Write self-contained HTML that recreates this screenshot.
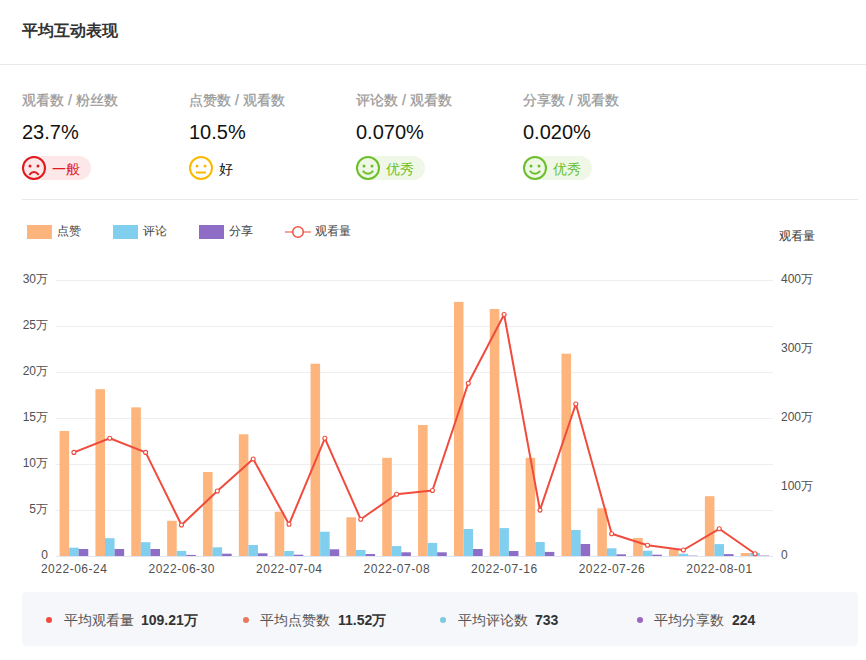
<!DOCTYPE html>
<html><head><meta charset="utf-8">
<style>
html,body{margin:0;padding:0;background:#fff;}
body{width:866px;height:660px;position:relative;overflow:hidden;font-family:"Liberation Sans",sans-serif;}
.a{position:absolute;white-space:nowrap;}
.title{left:22px;top:23px;font-size:16px;line-height:16px;font-weight:bold;color:#333;}
.hr{position:absolute;height:1px;background:#e8e8ed;}
.lbl{font-size:14px;line-height:14px;color:#999;font-weight:normal;top:93px;-webkit-text-stroke:0.25px #999;}
.val{font-size:20px;line-height:20px;color:#111;top:122px;}
.badge{position:absolute;top:156px;height:24px;}
.pill{position:absolute;left:0;top:0;height:24px;border-radius:12px;}
.face{position:absolute;left:0;top:0;}
.bt{position:absolute;white-space:nowrap;top:6px;font-size:14px;line-height:14px;}
.leg{font-size:12px;line-height:12px;color:#444;top:225px;}
.ax{font-size:12px;line-height:12px;color:#333;}
.sum{position:absolute;left:22px;top:592px;width:836px;height:54px;background:#f5f7fa;border-radius:4px;}
.dot{position:absolute;width:6px;height:6px;border-radius:3px;top:617px;}
.sl{font-size:14px;line-height:14px;color:#555;top:613px;}
.sv{font-size:14px;line-height:14px;color:#333;font-weight:bold;top:613px;}
</style></head><body>
<div class="a title">平均互动表现</div>
<div class="hr" style="left:0;top:64px;width:866px;"></div>

<div class="a lbl" style="left:22px">观看数 / 粉丝数</div>
<div class="a lbl" style="left:189px">点赞数 / 观看数</div>
<div class="a lbl" style="left:356px">评论数 / 观看数</div>
<div class="a lbl" style="left:523px">分享数 / 观看数</div>

<div class="a val" style="left:22px">23.7%</div>
<div class="a val" style="left:189px">10.5%</div>
<div class="a val" style="left:356px">0.070%</div>
<div class="a val" style="left:523px">0.020%</div>

<div class="badge" style="left:22px;">
 <div class="pill" style="width:69px;background:#fde8e9"></div>
 <svg class="face" width="24" height="24" viewBox="0 0 24 24"><circle cx="12" cy="12" r="11" fill="none" stroke="#e0191d" stroke-width="2"/><circle cx="8" cy="10" r="1.5" fill="#e0191d"/><circle cx="16" cy="10" r="1.5" fill="#e0191d"/><path d="M7.3 18.8 Q12 13.2 16.7 18.8" fill="none" stroke="#e0191d" stroke-width="2"/></svg>
 <div class="bt" style="left:30px;color:#e0191d">一般</div>
</div>
<div class="badge" style="left:189px;">
 <svg class="face" width="24" height="24" viewBox="0 0 24 24"><circle cx="12" cy="12" r="11" fill="none" stroke="#fcb800" stroke-width="2"/><circle cx="8" cy="10" r="1.5" fill="#fcb800"/><circle cx="16" cy="10" r="1.5" fill="#fcb800"/><path d="M7 16.5 H17" fill="none" stroke="#fcb800" stroke-width="2"/></svg>
 <div class="bt" style="left:30px;color:#111">好</div>
</div>
<div class="badge" style="left:356px;">
 <div class="pill" style="width:69px;background:#eff8e6"></div>
 <svg class="face" width="24" height="24" viewBox="0 0 24 24"><circle cx="12" cy="12" r="11" fill="none" stroke="#6cbf2a" stroke-width="2"/><circle cx="8" cy="10" r="1.5" fill="#6cbf2a"/><circle cx="16" cy="10" r="1.5" fill="#6cbf2a"/><path d="M6.8 14.8 Q12 20.6 17.2 14.8" fill="none" stroke="#6cbf2a" stroke-width="2"/></svg>
 <div class="bt" style="left:30px;color:#6cbf2a">优秀</div>
</div>
<div class="badge" style="left:523px;">
 <div class="pill" style="width:69px;background:#eff8e6"></div>
 <svg class="face" width="24" height="24" viewBox="0 0 24 24"><circle cx="12" cy="12" r="11" fill="none" stroke="#6cbf2a" stroke-width="2"/><circle cx="8" cy="10" r="1.5" fill="#6cbf2a"/><circle cx="16" cy="10" r="1.5" fill="#6cbf2a"/><path d="M6.8 14.8 Q12 20.6 17.2 14.8" fill="none" stroke="#6cbf2a" stroke-width="2"/></svg>
 <div class="bt" style="left:30px;color:#6cbf2a">优秀</div>
</div>

<div class="hr" style="left:22px;top:199px;width:836px;"></div>

<div class="a" style="left:27px;top:225px;width:25px;height:14px;background:#fdb47d"></div>
<div class="a leg" style="left:57px">点赞</div>
<div class="a" style="left:113px;top:225px;width:25px;height:14px;background:#80cfee"></div>
<div class="a leg" style="left:143px">评论</div>
<div class="a" style="left:199px;top:225px;width:25px;height:14px;background:#8e6dc6"></div>
<div class="a leg" style="left:229px">分享</div>
<svg class="a" style="left:285px;top:225px" width="26" height="14"><line x1="0" y1="7" x2="26" y2="7" stroke="#f6a29a" stroke-width="2"/><circle cx="13" cy="7" r="5.3" fill="#fff" stroke="#f0584c" stroke-width="1.6"/></svg>
<div class="a leg" style="left:315px">观看量</div>
<div class="a ax" style="left:779px;top:230px">观看量</div>
<svg class="a" style="left:0;top:0" width="866" height="660" font-family="Liberation Sans, sans-serif" font-size="12" fill="#333">
<line x1="56" y1="280.5" x2="773" y2="280.5" stroke="#eeeeee" stroke-width="1"/>
<line x1="56" y1="326.5" x2="773" y2="326.5" stroke="#eeeeee" stroke-width="1"/>
<line x1="56" y1="372.5" x2="773" y2="372.5" stroke="#eeeeee" stroke-width="1"/>
<line x1="56" y1="418.5" x2="773" y2="418.5" stroke="#eeeeee" stroke-width="1"/>
<line x1="56" y1="464.5" x2="773" y2="464.5" stroke="#eeeeee" stroke-width="1"/>
<line x1="56" y1="510.5" x2="773" y2="510.5" stroke="#eeeeee" stroke-width="1"/>
<line x1="56" y1="556.5" x2="773" y2="556.5" stroke="#e0e6f1" stroke-width="1"/>
<rect x="59.58" y="431.00" width="9.56" height="125.00" fill="#fdb47d"/>
<rect x="69.14" y="547.70" width="9.56" height="8.30" fill="#80cfee"/>
<rect x="78.70" y="549.00" width="9.56" height="7.00" fill="#8e6dc6"/>
<rect x="95.44" y="389.20" width="9.56" height="166.80" fill="#fdb47d"/>
<rect x="105.00" y="538.20" width="9.56" height="17.80" fill="#80cfee"/>
<rect x="114.56" y="549.00" width="9.56" height="7.00" fill="#8e6dc6"/>
<rect x="131.28" y="407.40" width="9.56" height="148.60" fill="#fdb47d"/>
<rect x="140.84" y="542.20" width="9.56" height="13.80" fill="#80cfee"/>
<rect x="150.41" y="549.00" width="9.56" height="7.00" fill="#8e6dc6"/>
<rect x="167.14" y="520.80" width="9.56" height="35.20" fill="#fdb47d"/>
<rect x="176.70" y="550.90" width="9.56" height="5.10" fill="#80cfee"/>
<rect x="186.26" y="554.90" width="9.56" height="1.10" fill="#8e6dc6"/>
<rect x="202.99" y="472.00" width="9.56" height="84.00" fill="#fdb47d"/>
<rect x="212.55" y="547.30" width="9.56" height="8.70" fill="#80cfee"/>
<rect x="222.11" y="553.70" width="9.56" height="2.30" fill="#8e6dc6"/>
<rect x="238.84" y="434.30" width="9.56" height="121.70" fill="#fdb47d"/>
<rect x="248.40" y="545.00" width="9.56" height="11.00" fill="#80cfee"/>
<rect x="257.95" y="553.30" width="9.56" height="2.70" fill="#8e6dc6"/>
<rect x="274.69" y="511.70" width="9.56" height="44.30" fill="#fdb47d"/>
<rect x="284.25" y="551.00" width="9.56" height="5.00" fill="#80cfee"/>
<rect x="293.81" y="554.70" width="9.56" height="1.30" fill="#8e6dc6"/>
<rect x="310.54" y="363.70" width="9.56" height="192.30" fill="#fdb47d"/>
<rect x="320.10" y="531.70" width="9.56" height="24.30" fill="#80cfee"/>
<rect x="329.66" y="549.30" width="9.56" height="6.70" fill="#8e6dc6"/>
<rect x="346.39" y="517.30" width="9.56" height="38.70" fill="#fdb47d"/>
<rect x="355.95" y="550.00" width="9.56" height="6.00" fill="#80cfee"/>
<rect x="365.51" y="554.00" width="9.56" height="2.00" fill="#8e6dc6"/>
<rect x="382.24" y="457.80" width="9.56" height="98.20" fill="#fdb47d"/>
<rect x="391.80" y="546.10" width="9.56" height="9.90" fill="#80cfee"/>
<rect x="401.36" y="552.30" width="9.56" height="3.70" fill="#8e6dc6"/>
<rect x="418.09" y="425.00" width="9.56" height="131.00" fill="#fdb47d"/>
<rect x="427.65" y="542.90" width="9.56" height="13.10" fill="#80cfee"/>
<rect x="437.21" y="552.30" width="9.56" height="3.70" fill="#8e6dc6"/>
<rect x="453.94" y="301.90" width="9.56" height="254.10" fill="#fdb47d"/>
<rect x="463.50" y="529.00" width="9.56" height="27.00" fill="#80cfee"/>
<rect x="473.06" y="549.00" width="9.56" height="7.00" fill="#8e6dc6"/>
<rect x="489.79" y="309.00" width="9.56" height="247.00" fill="#fdb47d"/>
<rect x="499.35" y="528.10" width="9.56" height="27.90" fill="#80cfee"/>
<rect x="508.91" y="551.00" width="9.56" height="5.00" fill="#8e6dc6"/>
<rect x="525.63" y="457.80" width="9.56" height="98.20" fill="#fdb47d"/>
<rect x="535.19" y="542.00" width="9.56" height="14.00" fill="#80cfee"/>
<rect x="544.75" y="551.90" width="9.56" height="4.10" fill="#8e6dc6"/>
<rect x="561.49" y="353.70" width="9.56" height="202.30" fill="#fdb47d"/>
<rect x="571.04" y="530.00" width="9.56" height="26.00" fill="#80cfee"/>
<rect x="580.61" y="544.00" width="9.56" height="12.00" fill="#8e6dc6"/>
<rect x="597.34" y="508.30" width="9.56" height="47.70" fill="#fdb47d"/>
<rect x="606.89" y="548.30" width="9.56" height="7.70" fill="#80cfee"/>
<rect x="616.46" y="554.30" width="9.56" height="1.70" fill="#8e6dc6"/>
<rect x="633.18" y="538.00" width="9.56" height="18.00" fill="#fdb47d"/>
<rect x="642.74" y="550.70" width="9.56" height="5.30" fill="#80cfee"/>
<rect x="652.30" y="554.70" width="9.56" height="1.30" fill="#8e6dc6"/>
<rect x="669.03" y="549.30" width="9.56" height="6.70" fill="#fdb47d"/>
<rect x="678.59" y="553.70" width="9.56" height="2.30" fill="#80cfee"/>
<rect x="688.15" y="555.65" width="9.56" height="0.35" fill="#8e6dc6"/>
<rect x="704.88" y="496.20" width="9.56" height="59.80" fill="#fdb47d"/>
<rect x="714.44" y="544.10" width="9.56" height="11.90" fill="#80cfee"/>
<rect x="724.00" y="554.10" width="9.56" height="1.90" fill="#8e6dc6"/>
<rect x="740.74" y="553.00" width="9.56" height="3.00" fill="#fdb47d"/>
<rect x="750.29" y="553.00" width="9.56" height="3.00" fill="#80cfee"/>
<rect x="759.86" y="555.6" width="9.56" height="0.4" fill="#8e6dc6"/>
<polyline points="73.92,452.40 109.78,438.30 145.62,452.40 181.48,525.00 217.33,491.00 253.18,459.00 289.02,524.30 324.88,438.30 360.73,519.30 396.57,494.20 432.43,490.50 468.28,383.30 504.12,314.50 539.98,510.10 575.83,404.00 611.68,533.70 647.52,545.30 683.38,550.00 719.23,528.80 755.08,553.80" fill="none" stroke="#f04b3d" stroke-width="2" stroke-linejoin="round"/>
<circle cx="73.92" cy="452.40" r="2" fill="#fff" stroke="#f04b3d" stroke-width="1.1"/>
<circle cx="109.78" cy="438.30" r="2" fill="#fff" stroke="#f04b3d" stroke-width="1.1"/>
<circle cx="145.62" cy="452.40" r="2" fill="#fff" stroke="#f04b3d" stroke-width="1.1"/>
<circle cx="181.48" cy="525.00" r="2" fill="#fff" stroke="#f04b3d" stroke-width="1.1"/>
<circle cx="217.33" cy="491.00" r="2" fill="#fff" stroke="#f04b3d" stroke-width="1.1"/>
<circle cx="253.18" cy="459.00" r="2" fill="#fff" stroke="#f04b3d" stroke-width="1.1"/>
<circle cx="289.02" cy="524.30" r="2" fill="#fff" stroke="#f04b3d" stroke-width="1.1"/>
<circle cx="324.88" cy="438.30" r="2" fill="#fff" stroke="#f04b3d" stroke-width="1.1"/>
<circle cx="360.73" cy="519.30" r="2" fill="#fff" stroke="#f04b3d" stroke-width="1.1"/>
<circle cx="396.57" cy="494.20" r="2" fill="#fff" stroke="#f04b3d" stroke-width="1.1"/>
<circle cx="432.43" cy="490.50" r="2" fill="#fff" stroke="#f04b3d" stroke-width="1.1"/>
<circle cx="468.28" cy="383.30" r="2" fill="#fff" stroke="#f04b3d" stroke-width="1.1"/>
<circle cx="504.12" cy="314.50" r="2" fill="#fff" stroke="#f04b3d" stroke-width="1.1"/>
<circle cx="539.98" cy="510.10" r="2" fill="#fff" stroke="#f04b3d" stroke-width="1.1"/>
<circle cx="575.83" cy="404.00" r="2" fill="#fff" stroke="#f04b3d" stroke-width="1.1"/>
<circle cx="611.68" cy="533.70" r="2" fill="#fff" stroke="#f04b3d" stroke-width="1.1"/>
<circle cx="647.52" cy="545.30" r="2" fill="#fff" stroke="#f04b3d" stroke-width="1.1"/>
<circle cx="683.38" cy="550.00" r="2" fill="#fff" stroke="#f04b3d" stroke-width="1.1"/>
<circle cx="719.23" cy="528.80" r="2" fill="#fff" stroke="#f04b3d" stroke-width="1.1"/>
<circle cx="755.08" cy="553.80" r="2" fill="#fff" stroke="#f04b3d" stroke-width="1.1"/>
<g fill="#505050"><text x="48" y="283" text-anchor="end">30万</text>
<text x="48" y="329" text-anchor="end">25万</text>
<text x="48" y="375" text-anchor="end">20万</text>
<text x="48" y="421" text-anchor="end">15万</text>
<text x="48" y="467" text-anchor="end">10万</text>
<text x="48" y="513" text-anchor="end">5万</text>
<text x="48" y="559" text-anchor="end">0</text>
<text x="781" y="283">400万</text>
<text x="781" y="352">300万</text>
<text x="781" y="421">200万</text>
<text x="781" y="490">100万</text>
<text x="781" y="559">0</text>
<text x="73.92" y="573" text-anchor="middle" textLength="66" lengthAdjust="spacing">2022-06-24</text>
<text x="181.48" y="573" text-anchor="middle" textLength="66" lengthAdjust="spacing">2022-06-30</text>
<text x="289.02" y="573" text-anchor="middle" textLength="66" lengthAdjust="spacing">2022-07-04</text>
<text x="396.57" y="573" text-anchor="middle" textLength="66" lengthAdjust="spacing">2022-07-08</text>
<text x="504.12" y="573" text-anchor="middle" textLength="66" lengthAdjust="spacing">2022-07-16</text>
<text x="611.68" y="573" text-anchor="middle" textLength="66" lengthAdjust="spacing">2022-07-26</text>
<text x="719.23" y="573" text-anchor="middle" textLength="66" lengthAdjust="spacing">2022-08-01</text></g></svg>

<div class="sum"></div>
<div class="dot" style="left:46px;background:#ef4a3c"></div>
<div class="a sl" style="left:64px">平均观看量</div>
<div class="a sv" style="left:141px">109.21万</div>
<div class="dot" style="left:243px;background:#e9765e"></div>
<div class="a sl" style="left:260px">平均点赞数</div>
<div class="a sv" style="left:338px">11.52万</div>
<div class="dot" style="left:440px;background:#7ec8e3"></div>
<div class="a sl" style="left:458px">平均评论数</div>
<div class="a sv" style="left:535px">733</div>
<div class="dot" style="left:637px;background:#9a68c0"></div>
<div class="a sl" style="left:654px">平均分享数</div>
<div class="a sv" style="left:732px">224</div>
</body></html>
